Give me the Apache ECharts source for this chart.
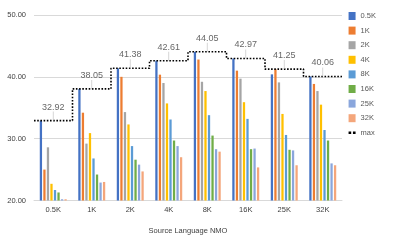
<!DOCTYPE html>
<html><head><meta charset="utf-8">
<script src="https://cdn.jsdelivr.net/npm/echarts@6/dist/echarts.min.js"></script>
<style>html,body{margin:0;padding:0;background:#fff}#c{width:397px;height:245px}</style>
</head><body><div id="c"></div>
<script>
const categories = ['0.5K','1K','2K','4K','8K','16K','25K','32K'];
const seriesNames = ['0.5K','1K','2K','4K','8K','16K','25K','32K'];
const s05K = [32.92, 38.05, 41.38, 42.61, 44.05, 42.97, 40.4, 40.06];
const s1K  = [25.0, 34.2, 40.0, 40.35, 42.8, 41.0, 41.25, 38.85];
const s2K  = [28.6, 29.2, 34.3, 39.0, 39.2, 39.7, 39.1, 37.7];
const s4K  = [22.7, 30.9, 32.3, 35.7, 37.7, 35.9, 34.0, 35.5];
const s8K  = [21.7, 26.8, 28.8, 33.1, 33.8, 33.2, 30.6, 31.4];
const s16K = [21.3, 24.2, 26.6, 29.7, 30.5, 28.3, 28.2, 29.7];
const s25K = [20.2, 22.9, 25.8, 28.8, 28.3, 28.4, 28.1, 26.0];
const s32K = [20.2, 23.0, 24.7, 27.0, 27.9, 25.35, 25.7, 25.7];
const maxValues = [32.92, 38.05, 41.38, 42.61, 44.05, 42.97, 41.25, 40.06];
const yTicks = [20, 30, 40, 50];

const allSeries = [s05K, s1K, s2K, s4K, s8K, s16K, s25K, s32K];
const colors = ['#4472C4','#ED7D31','#A5A5A5','#FFC000','#5B9BD5','#70AD47','#8AA6DC','#F4A67B'];

const barSeries = allSeries.map((d, i) => ({
  name: seriesNames[i], type: 'bar', data: d, xAxisIndex: 0,
  itemStyle: {color: colors[i]},
  barCategoryGap: '30%', barGap: '55%'
}));

const stepData = [];
maxValues.forEach((v, i) => { stepData.push([i, v]); stepData.push([i + 1, v]); });
const labelData = maxValues.map((v, i) => [i + 0.5, v]);

const chart = echarts.init(document.getElementById('c'), null, {renderer: 'canvas'});
chart.setOption({
  animation: false,
  textStyle: {fontFamily: 'Liberation Sans, Arial, sans-serif'},
  grid: {left: 34, right: 55, top: 15, bottom: 44.5},
  legend: {
    orient: 'vertical', right: 16, top: 7, itemWidth: 7, itemHeight: 8, itemGap: 6.6,
    textStyle: {fontSize: 7.5, color: '#595959'},
    data: seriesNames.map(n => ({name: n, icon: 'rect'})).concat([{name: 'max', icon: 'path://M0,3h3v3h-3z M5,3h3v3h-3z'}])
  },
  xAxis: [{
    type: 'category', data: categories,
    axisLine: {lineStyle: {color: '#d9d9d9'}}, axisTick: {show: false},
    axisLabel: {fontSize: 7.5, color: '#404040', margin: 5},
    name: 'Source Language NMO', nameLocation: 'middle', nameGap: 26,
    nameTextStyle: {fontSize: 7.5, color: '#404040'}
  }, {
    type: 'value', min: 0, max: 8, show: false
  }],
  yAxis: {
    type: 'value', min: 20, max: 50, interval: 10,
    axisLabel: {fontSize: 7.5, color: '#404040', formatter: v => yTicks.includes(v) ? v.toFixed(2) : ''},
    splitLine: {lineStyle: {color: '#d9d9d9'}},
    axisLine: {show: false}, axisTick: {show: false}
  },
  series: barSeries.concat([{
    name: 'max', type: 'line', xAxisIndex: 1, data: stepData, symbol: 'none',
    lineStyle: {color: '#000', width: 1.6, type: [1.6, 1.6]}, itemStyle: {color: '#000'}, z: 5
  }, {
    name: 'maxLabel', type: 'scatter', xAxisIndex: 1, data: labelData,
    symbol: 'rect', symbolSize: [0.8, 9], symbolOffset: [0, -4.5],
    itemStyle: {color: '#bfbfbf'},
    label: {show: true, position: 'top', distance: 0, fontSize: 9, color: '#404040',
      formatter: p => p.value[1].toFixed(2)},
    z: 6
  }])
});
</script></body></html>
